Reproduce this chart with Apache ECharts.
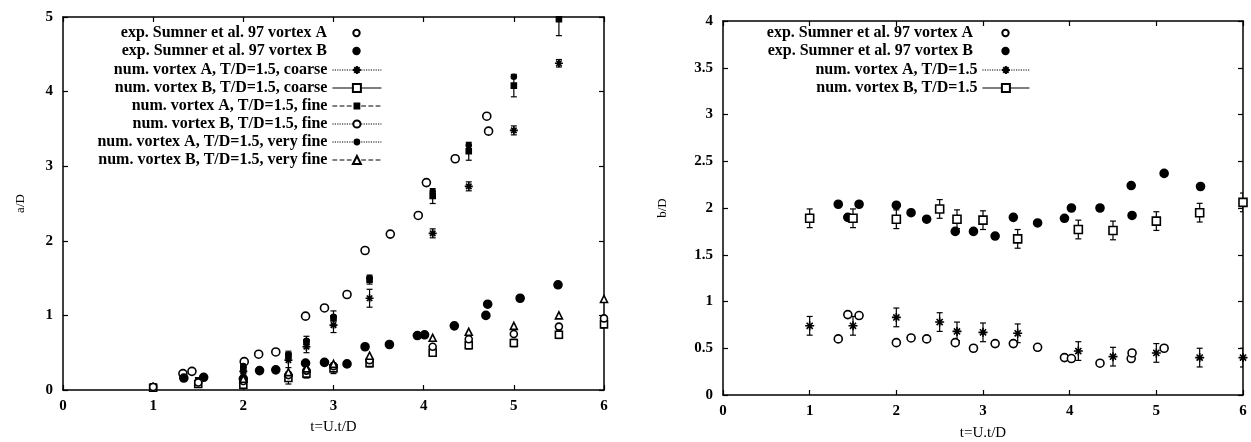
<!DOCTYPE html>
<html>
<head>
<meta charset="utf-8">
<script src="https://cdn.jsdelivr.net/npm/echarts@6/dist/echarts.min.js"></script>
<style>
html, body { margin: 0; background: #fff; }
#chart { width: 1251px; height: 442px; }
</style>
</head>
<body>
<div id="chart"></div>
<script>
// ---- left panel: a/D ----
const expA_t = [1.33, 1.43, 2.01, 2.17, 2.36, 2.69, 2.90, 3.15, 3.35, 3.63, 3.94, 4.03, 4.35, 4.70, 4.72]
const expA_a = [0.22, 0.25, 0.38, 0.48, 0.51, 0.99, 1.10, 1.28, 1.87, 2.09, 2.34, 2.78, 3.10, 3.67, 3.47]
const expB_t = [1.34, 1.56, 2.00, 2.18, 2.36, 2.69, 2.90, 3.15, 3.35, 3.62, 3.93, 4.01, 4.34, 4.69, 4.71, 5.07, 5.49]
const expB_a = [0.16, 0.17, 0.15, 0.26, 0.27, 0.36, 0.37, 0.35, 0.58, 0.61, 0.73, 0.74, 0.86, 1.00, 1.15, 1.23, 1.41]

const numA_t = [1, 1.5, 2, 2.5, 2.7, 3, 3.4, 4.1, 4.5, 5, 5.5]
const coarseA_a = [0.05, 0.12, 0.25, 0.40, 0.58, 0.87, 1.23, 2.10, 2.73, 3.48, 4.38]
const coarseA_err = [0.02, 0.03, 0.05, 0.10, 0.08, 0.10, 0.12, 0.06, 0.06, 0.06, 0.05]
const fineA_a = [0.05, 0.13, 0.28, 0.46, 0.64, 0.96, 1.48, 2.60, 3.20, 4.08, 4.97]
const fineA_err = [0.02, 0.03, 0.05, 0.06, 0.08, 0.10, 0.06, 0.10, 0.12, 0.15, 0.22]
const vfineA_t = [2, 2.5, 2.7, 3, 3.4, 4.1, 4.5, 5]
const vfineA_a = [0.32, 0.47, 0.66, 0.98, 1.50, 2.66, 3.28, 4.20]

const numB_t = [1, 1.5, 2, 2.5, 2.7, 3, 3.4, 4.1, 4.5, 5, 5.5, 6]
const coarseB_a = [0.03, 0.08, 0.07, 0.16, 0.22, 0.29, 0.36, 0.50, 0.60, 0.63, 0.74, 0.88]
const coarseB_err = [0.02, 0.03, 0.04, 0.08, 0.06, 0.07, 0.05, 0.05, 0.05, 0.05, 0.05, 0.05]
const fineB_a = [0.04, 0.10, 0.12, 0.20, 0.26, 0.32, 0.40, 0.58, 0.68, 0.75, 0.85, 0.96]
const vfineB_t = [2, 2.5, 2.7, 3, 3.4, 4.1, 4.5, 5, 5.5, 6]
const vfineB_a = [0.15, 0.24, 0.29, 0.35, 0.46, 0.70, 0.78, 0.86, 1.00, 1.22]

// ---- right panel: b/D ----
const expA_bt = [1.33, 1.44, 1.57, 2.00, 2.17, 2.35, 2.68, 2.89, 3.14, 3.35, 3.63, 3.94, 4.02, 4.35, 4.71, 4.72, 5.09]
const expA_b = [0.60, 0.86, 0.85, 0.56, 0.61, 0.60, 0.56, 0.50, 0.55, 0.55, 0.51, 0.40, 0.39, 0.34, 0.39, 0.45, 0.50]
const expB_bt = [1.33, 1.44, 1.57, 2.00, 2.17, 2.35, 2.68, 2.89, 3.14, 3.35, 3.63, 3.94, 4.02, 4.35, 4.71, 4.72, 5.09, 5.51]
const expB_b = [2.04, 1.90, 2.04, 2.03, 1.95, 1.88, 1.75, 1.75, 1.70, 1.90, 1.84, 1.89, 2.00, 2.00, 2.24, 1.92, 2.37, 2.23]
const num_bt = [1, 1.5, 2, 2.5, 2.7, 3, 3.4, 4.1, 4.5, 5, 5.5, 6]
const numA_b = [0.74, 0.74, 0.83, 0.78, 0.68, 0.67, 0.66, 0.47, 0.41, 0.45, 0.40, 0.40]
const numA_berr = [0.10, 0.10, 0.10, 0.10, 0.10, 0.10, 0.10, 0.10, 0.10, 0.10, 0.10, 0.10]
const numB_b = [1.89, 1.89, 1.88, 1.99, 1.88, 1.87, 1.67, 1.77, 1.76, 1.86, 1.95, 2.06]
const numB_berr = [0.10, 0.10, 0.10, 0.10, 0.10, 0.10, 0.10, 0.10, 0.10, 0.10, 0.10, 0.10]

const leftNames = [
    'exp. Sumner et al. 97 vortex A',
    'exp. Sumner et al. 97 vortex B',
    'num. vortex A, T/D=1.5, coarse',
    'num. vortex B, T/D=1.5, coarse',
    'num. vortex A, T/D=1.5, fine',
    'num. vortex B, T/D=1.5, fine',
    'num. vortex A, T/D=1.5, very fine',
    'num. vortex B, T/D=1.5, very fine'
]
const rightNames = [
    'exp. Sumner et al. 97 vortex A ',
    'exp. Sumner et al. 97 vortex B ',
    'num. vortex A, T/D=1.5',
    'num. vortex B, T/D=1.5'
]

const SERIF = 'Liberation Serif'
const STAR = 'path://M0,5L10,5M5,0L5,10M1.6,1.6L8.4,8.4M8.4,1.6L1.6,8.4'

const pts = (ts, vs) => ts.map((t, i) => [t, vs[i]])
const bars = (ts, vs, es) => ts.map((t, i) => [t, vs[i] - es[i], vs[i] + es[i]])

function renderBar(params, api) {
    const t = api.value(0)
    const lo = api.coord([t, api.value(1)])
    const hi = api.coord([t, api.value(2)])
    const w = 3
    const st = { stroke: '#000', lineWidth: 1.2 }
    return {
        type: 'group',
        children: [
            { type: 'line', shape: { x1: lo[0], y1: lo[1], x2: hi[0], y2: hi[1] }, style: st },
            { type: 'line', shape: { x1: lo[0] - w, y1: lo[1], x2: lo[0] + w, y2: lo[1] }, style: st },
            { type: 'line', shape: { x1: hi[0] - w, y1: hi[1], x2: hi[0] + w, y2: hi[1] }, style: st }
        ]
    }
}

function errSeries(data, g) {
    return {
        type: 'custom', xAxisIndex: g * 2, yAxisIndex: g * 2, renderItem: renderBar,
        encode: { x: 0, y: [1, 2] }, data: data, silent: true, clip: true, z: 1
    }
}

// points only: the connecting line is hidden, so the legend key keeps its full width
function pointSeries(name, data, g, symbol, size, filled) {
    return {
        name: name, type: 'line', xAxisIndex: g * 2, yAxisIndex: g * 2, data: data,
        symbol: symbol, symbolSize: size, showSymbol: true, silent: true, z: 3,
        lineStyle: { opacity: 0 },
        itemStyle: { color: filled ? '#000' : '#fff', borderColor: '#000', borderWidth: 1.6 }
    }
}

function axisX(g, pos, withLabels) {
    const ax = {
        type: 'value', gridIndex: g, position: pos, min: 0, max: 6, interval: 1,
        axisLine: { onZero: false, lineStyle: { color: '#000', width: 1.5 } },
        axisTick: { inside: true, length: 5, lineStyle: { color: '#000', width: 1.2 } },
        splitLine: { show: false },
        axisLabel: { show: withLabels, color: '#000', fontFamily: SERIF, fontWeight: 'bold', fontSize: 15, margin: 9 }
    }
    if (withLabels) {
        ax.name = 't=U.t/D'
        ax.nameLocation = 'middle'
        ax.nameGap = g === 0 ? 30 : 31
        ax.nameTextStyle = { color: '#000', fontFamily: SERIF, fontSize: 15 }
    }
    return ax
}

function axisY(g, pos, max, step, name, gap) {
    const ax = {
        type: 'value', gridIndex: g, position: pos, min: 0, max: max, interval: step,
        axisLine: { onZero: false, lineStyle: { color: '#000', width: 1.5 } },
        axisTick: { inside: true, length: 5, lineStyle: { color: '#000', width: 1.2 } },
        splitLine: { show: false },
        axisLabel: { show: !!name, color: '#000', fontFamily: SERIF, fontWeight: 'bold', fontSize: 15, margin: 10 }
    }
    if (name) {
        ax.name = name
        ax.nameLocation = 'middle'
        ax.nameRotate = 90
        ax.nameGap = gap
        ax.nameTextStyle = { color: '#000', fontFamily: SERIF, fontSize: 13 }
    }
    return ax
}

// one legend per row so the keys line up on the right
function legendRow(name, right, top, width, height, lineType) {
    return {
        data: [name], orient: 'vertical', align: 'right', right: right, top: top,
        padding: 0, itemWidth: width, itemHeight: height, selectedMode: false,
        textStyle: { color: '#000', fontFamily: SERIF, fontSize: 16, fontWeight: 'bold', lineHeight: 18 },
        lineStyle: lineType
            ? { opacity: 1, color: '#000', width: 1.2, type: lineType }
            : { opacity: 0 }
    }
}

const leftRows = [33, 51, 70, 88, 106, 124, 142, 160]
const leftLines = [null, null, 'dotted', 'solid', 'dashed', 'dotted', 'dotted', 'dashed']
const leftKeySize = [8, 8, 10, 10, 6, 9, 6, 10]
const rightRows = [33, 51, 70, 88]
const rightLines = [null, null, 'dotted', 'solid']
const rightKeySize = [8, 8, 10, 10]

const legends = []
leftNames.forEach((n, i) => legends.push(legendRow(n, 869, leftRows[i] - 9, 49, leftKeySize[i], leftLines[i])))
rightNames.forEach((n, i) => legends.push(legendRow(n, 221, rightRows[i] - 9, 47, rightKeySize[i], rightLines[i])))

const chart = echarts.init(document.getElementById('chart'))

chart.setOption({
    backgroundColor: '#fff',
    animation: false,
    legend: legends,
    grid: [
        { left: 63, right: 647, top: 17, bottom: 52, outerBoundsMode: 'none' },
        { left: 723, right: 8, top: 21, bottom: 47, outerBoundsMode: 'none' }
    ],
    xAxis: [axisX(0, 'bottom', true), axisX(0, 'top', false), axisX(1, 'bottom', true), axisX(1, 'top', false)],
    yAxis: [
        axisY(0, 'left', 5, 1, 'a/D', 36), axisY(0, 'right', 5, 1, null),
        axisY(1, 'left', 4, 0.5, 'b/D', 54), axisY(1, 'right', 4, 0.5, null)
    ],
    series: [
        // left panel
        errSeries(bars(numA_t, coarseA_a, coarseA_err), 0),
        errSeries(bars(numA_t, fineA_a, fineA_err), 0),
        errSeries(bars(numB_t, coarseB_a, coarseB_err), 0),
        pointSeries(leftNames[0], pts(expA_t, expA_a), 0, 'circle', 8, false),
        pointSeries(leftNames[1], pts(expB_t, expB_a), 0, 'circle', 8, true),
        pointSeries(leftNames[2], pts(numA_t, coarseA_a), 0, STAR, 8, false),
        pointSeries(leftNames[3], pts(numB_t, coarseB_a), 0, 'rect', 7, false),
        pointSeries(leftNames[4], pts(numA_t, fineA_a), 0, 'rect', 5, true),
        pointSeries(leftNames[5], pts(numB_t, fineB_a), 0, 'circle', 7, false),
        pointSeries(leftNames[6], pts(vfineA_t, vfineA_a), 0, 'circle', 5, true),
        pointSeries(leftNames[7], pts(vfineB_t, vfineB_a), 0, 'triangle', 7, false),
        // right panel
        errSeries(bars(num_bt, numA_b, numA_berr), 1),
        errSeries(bars(num_bt, numB_b, numB_berr), 1),
        pointSeries(rightNames[0], pts(expA_bt, expA_b), 1, 'circle', 8, false),
        pointSeries(rightNames[1], pts(expB_bt, expB_b), 1, 'circle', 8, true),
        pointSeries(rightNames[2], pts(num_bt, numA_b), 1, STAR, 9, false),
        pointSeries(rightNames[3], pts(num_bt, numB_b), 1, 'rect', 8, false)
    ]
})
</script>
</body>
</html>
